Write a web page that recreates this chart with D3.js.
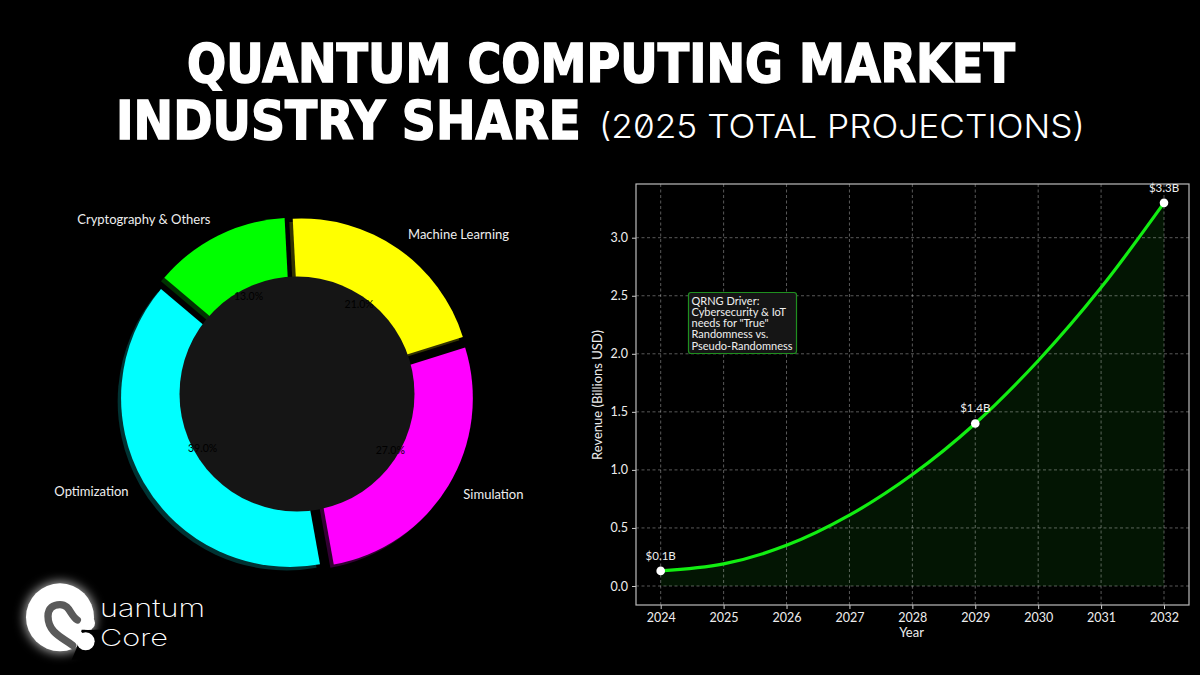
<!DOCTYPE html>
<html>
<head>
<meta charset="utf-8" />
<title>Quantum Computing Market</title>
<script src="https://cdn.jsdelivr.net/npm/d3@7"></script>
<style type="text/css">
html, body { margin: 0; padding: 0; background: #000; }
svg { display: block; }
text { font-family: Lato, Roboto, sans-serif; fill: #eee; }
</style>
</head>
<body>
<svg id="chart" width="1200" height="675"></svg>
<script type="text/javascript">
// donut
var industries = ["Machine Learning", "Simulation", "Optimization", "Cryptography & Others"];
var shares = [21, 27, 39, 13];
var sliceColors = ["#ffff00", "#ff00ff", "#00ffff", "#00ff00"];

// revenue line
var years = [2024, 2025, 2026, 2027, 2028, 2029, 2030, 2031, 2032];
var revenue = [0.13, 0.19, 0.35, 0.61, 0.96, 1.40, 1.94, 2.57, 3.30];
var labelledYears = [2024, 2029, 2032];
var revenueLabels = ["$0.1B", "$1.4B", "$3.3B"];
var yTicks = [0, 0.5, 1, 1.5, 2, 2.5, 3];
var noteLines = ["QRNG Driver:", "Cybersecurity & IoT", "needs for \"True\"", "Randomness vs.", "Pseudo-Randomness"];

var svg = d3.select("#chart");
svg.append("rect").attr("width", 1200).attr("height", 675).attr("fill", "#000");

// text squeezed to a measured width, the fonts here are narrower/wider than the original
function fitted(x, y, str, family, size, len, weight) {
	var t = svg.append("text").text(str)
		.style("font-family", family).style("fill", "#fff")
		.attr("font-size", size).attr("font-weight", weight);
	var natural = t.node().getComputedTextLength();
	t.attr("transform", "translate(" + x + "," + y + ") scale(" + (len / natural) + ",1)");
	return t;
}

// title
fitted(187, 82, "QUANTUM COMPUTING MARKET", "'DejaVu Sans'", 54, 828, 700)
	.attr("stroke", "#fff").attr("stroke-width", 1.6);
fitted(116, 139, "INDUSTRY SHARE", "'DejaVu Sans'", 54, 465, 700)
	.attr("stroke", "#fff").attr("stroke-width", 1.6);
fitted(599, 138, "(2025 TOTAL PROJECTIONS)", "Inter", 33, 486, 300)
	.style("font-feature-settings", "'zero'");

// donut chart
var cx = 297, cy = 394, radius = 169, explode = 8, holeRadius = 117.5;
var startAngle = -3 * Math.PI / 180;

var pie = d3.pie().sort(null).startAngle(startAngle).endAngle(startAngle + 2 * Math.PI);
var arcs = pie(shares);
var arc = d3.arc().innerRadius(0).outerRadius(radius);

function mid(d) { return (d.startAngle + d.endAngle) / 2; }
function polar(a, r) { return [cx + r * Math.sin(a), cy - r * Math.cos(a)]; }

var donut = svg.append("g");
donut.selectAll(".shadow").data(arcs).enter().append("path")
	.attr("class", "shadow")
	.attr("d", arc)
	.attr("fill", function(d, i) { return sliceColors[i]; })
	.attr("fill-opacity", 0.2)
	.attr("transform", function(d) {
		var p = polar(mid(d), explode);
		return "translate(" + (p[0] - 3.4) + "," + (p[1] + 3.4) + ")";
	});
donut.selectAll(".slice").data(arcs).enter().append("path")
	.attr("class", "slice")
	.attr("d", arc)
	.attr("fill", function(d, i) { return sliceColors[i]; })
	.attr("transform", function(d) {
		var p = polar(mid(d), explode);
		return "translate(" + p[0] + "," + p[1] + ")";
	});
donut.append("circle").attr("cx", cx).attr("cy", cy).attr("r", holeRadius).attr("fill", "#151515");

donut.selectAll(".pct").data(arcs).enter().append("text")
	.attr("class", "pct")
	.attr("x", function(d) { return polar(mid(d), 109)[0]; })
	.attr("y", function(d) { return polar(mid(d), 109)[1]; })
	.attr("dy", "0.35em")
	.attr("text-anchor", "middle")
	.attr("font-size", 10.5)
	.style("fill", "#000")
	.text(function(d, i) { return shares[i].toFixed(1) + "%"; });

donut.selectAll(".name").data(arcs).enter().append("text")
	.attr("class", "name")
	.attr("x", function(d) { return polar(mid(d), 194.5)[0]; })
	.attr("y", function(d) { return polar(mid(d), 194.5)[1]; })
	.attr("dy", "0.35em")
	.attr("font-size", 13)
	.attr("text-anchor", function(d) { return Math.sin(mid(d)) > 0 ? "start" : "end"; })
	.text(function(d, i) { return industries[i]; });

// line chart
var left = 636, right = 1189, top_ = 184, bottom = 605;
var x = d3.scaleLinear().domain([2024, 2032]).range([660.7, 1164]);
var y = d3.scaleLinear().domain([0, 3]).range([586, 237.7]);

var area = d3.area().x(function(d, i) { return x(years[i]); })
	.y0(y(0)).y1(function(d) { return y(d); }).curve(d3.curveCatmullRom.alpha(0.5));
var line = d3.line().x(function(d, i) { return x(years[i]); })
	.y(function(d) { return y(d); }).curve(d3.curveCatmullRom.alpha(0.5));

svg.append("path").attr("d", area(revenue)).attr("fill", "#031503");

var grid = svg.append("g").attr("stroke", "#fff").attr("stroke-opacity", 0.35)
	.attr("stroke-dasharray", "3,2.5").attr("stroke-width", 1);
grid.selectAll(".gx").data(years).enter().append("line")
	.attr("x1", function(d) { return x(d); }).attr("x2", function(d) { return x(d); })
	.attr("y1", top_).attr("y2", bottom);
grid.selectAll(".gy").data(yTicks).enter().append("line")
	.attr("y1", function(d) { return y(d); }).attr("y2", function(d) { return y(d); })
	.attr("x1", left).attr("x2", right);

var xAxis = svg.append("g").attr("transform", "translate(0," + bottom + ")")
	.call(d3.axisBottom(x).tickValues(years).tickFormat(d3.format("d")).tickSize(4).tickPadding(4));
var yAxis = svg.append("g").attr("transform", "translate(" + left + ",0)")
	.call(d3.axisLeft(y).tickValues(yTicks).tickFormat(d3.format(".1f")).tickSize(4).tickPadding(4));
[xAxis, yAxis].forEach(function(a) {
	a.select(".domain").remove();
	a.selectAll("line").attr("stroke", "#ccc");
	a.selectAll("text").attr("font-size", 12.5).attr("font-family", "Lato").style("fill", "#eee");
});

svg.append("rect").attr("x", left).attr("y", top_).attr("width", right - left).attr("height", bottom - top_)
	.attr("fill", "none").attr("stroke", "#bbb").attr("stroke-width", 1.2);

svg.append("path").attr("d", line(revenue)).attr("fill", "none").attr("stroke", "#12ee12").attr("stroke-width", 3.2);

labelledYears.forEach(function(yr, i) {
	var v = revenue[years.indexOf(yr)];
	svg.append("circle").attr("cx", x(yr)).attr("cy", y(v)).attr("r", 4.3).attr("fill", "#fff");
	svg.append("text").attr("x", x(yr)).attr("y", y(v) - 11).attr("text-anchor", "middle")
		.attr("font-size", 11.5).text(revenueLabels[i]);
});

svg.append("text").attr("x", (left + right) / 2 - 1).attr("y", 637).attr("text-anchor", "middle")
	.attr("font-size", 13).text("Year");
svg.append("text").attr("transform", "translate(602,395) rotate(-90)").attr("text-anchor", "middle")
	.attr("font-size", 13).text("Revenue (Billions USD)");

// note box
svg.append("rect").attr("x", 688.5).attr("y", 292.5).attr("width", 108).attr("height", 61).attr("rx", 2.5)
	.attr("fill", "#151515").attr("stroke", "#1f8f1f").attr("stroke-width", 1.2);
noteLines.forEach(function(s, i) {
	svg.append("text").attr("x", 691.5).attr("y", 304.5 + i * 11.3).attr("font-size", 11).text(s);
});

// logo
var defs = svg.append("defs");
defs.append("filter").attr("id", "glow").attr("x", "-50%").attr("y", "-50%").attr("width", "200%").attr("height", "200%")
	.append("feGaussianBlur").attr("stdDeviation", 16);

var logo = svg.append("g").attr("transform", "translate(20,578) scale(0.3333)");
logo.append("circle").attr("cx", 120).attr("cy", 118).attr("r", 106).attr("fill", "#fff").attr("fill-opacity", 0.7).attr("filter", "url(#glow)");
logo.append("circle").attr("cx", 120).attr("cy", 118).attr("r", 102).attr("fill", "#fff");
logo.append("path").attr("d", "M185 155L245 155L245 245L155 245L170 210Z").attr("fill", "#000");
logo.append("circle").attr("cx", 204).attr("cy", 135).attr("r", 21).attr("fill", "#fff");
logo.append("path").attr("d", "M120 115C150 145 175 170 196 190").attr("fill", "none").attr("stroke", "#fff").attr("stroke-width", 24).attr("stroke-linecap", "round");
logo.append("circle").attr("cx", 197).attr("cy", 190).attr("r", 27).attr("fill", "#fff");
logo.append("path")
	.attr("d", "M158 202C130 180 84 165 84 115C84 90 100 80 120 80C150 80 150 112 172 126")
	.attr("fill", "none").attr("stroke", "#5a5a5a").attr("stroke-width", 22).attr("stroke-linecap", "round");

fitted(100, 617, "uantum", "Inter", 25, 105, 200);
fitted(100, 645.5, "Core", "Inter", 23.5, 68, 200);
</script>
</body>
</html>
